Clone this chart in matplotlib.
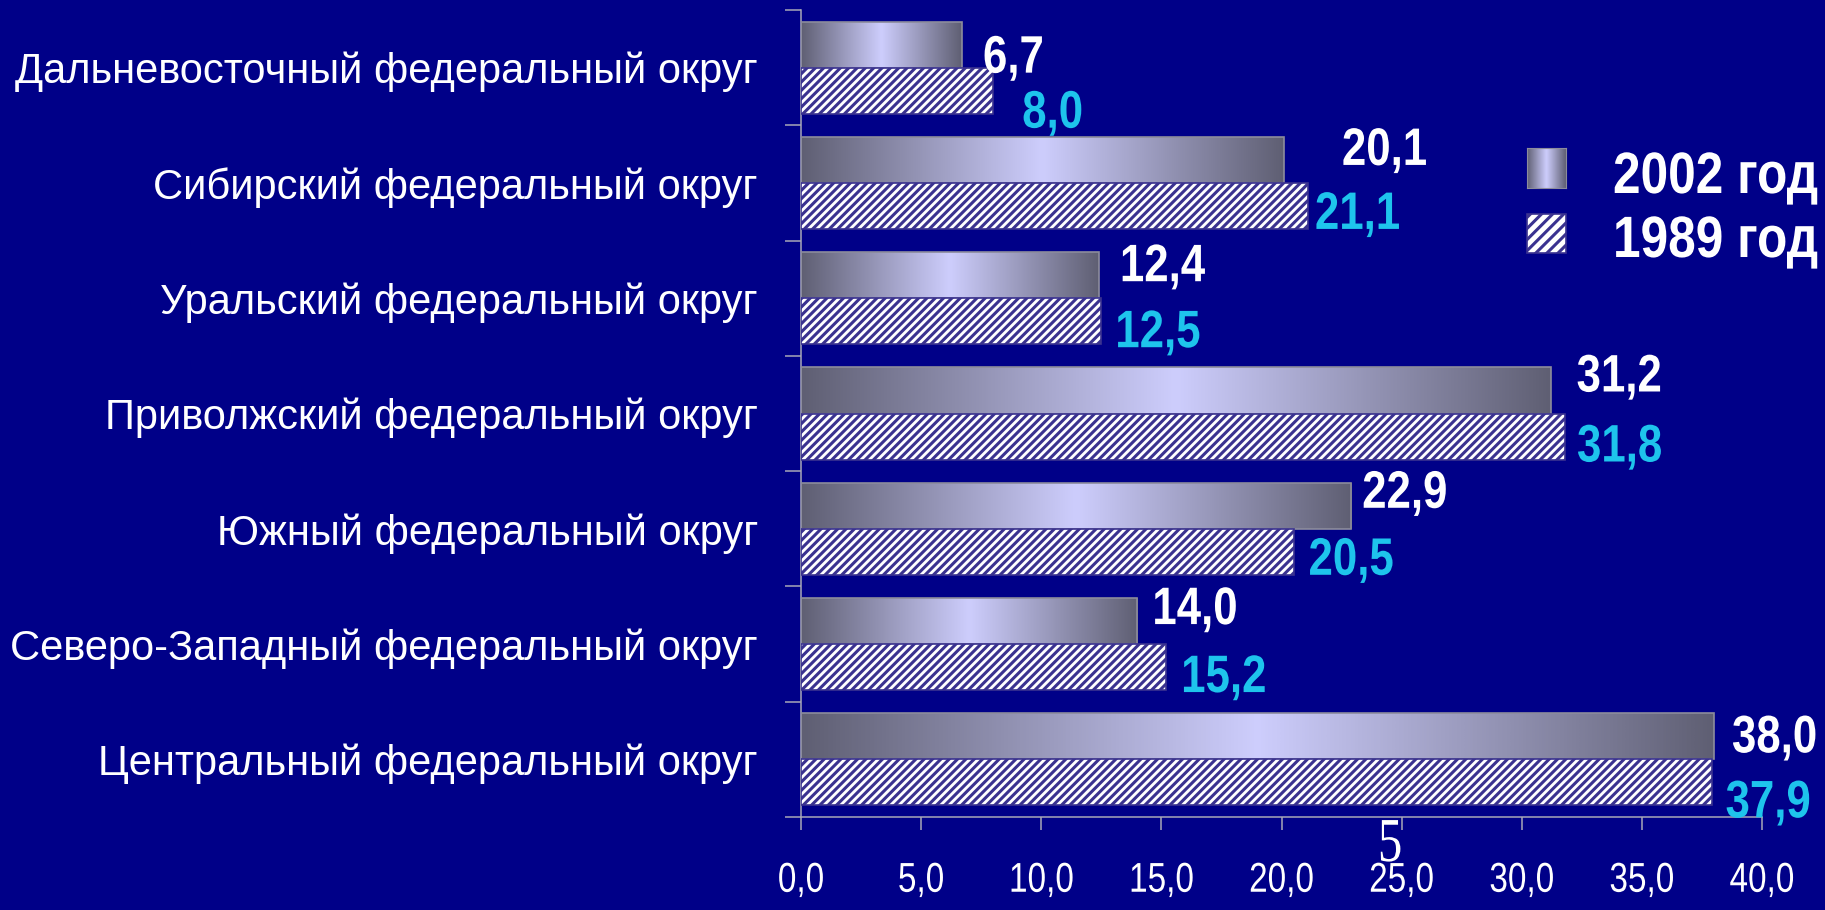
# Recreation of the bar chart comparing federal districts, 2002 vs 1989.
import numpy as np
import matplotlib.pyplot as plt
from matplotlib.colors import LinearSegmentedColormap
from matplotlib.patches import Rectangle
from matplotlib.patheffects import AbstractPathEffect
from matplotlib.transforms import Affine2D

# data (top to bottom, as on the slide)
districts = ['Дальневосточный федеральный округ',
             'Сибирский федеральный округ',
             'Уральский федеральный округ',
             'Приволжский федеральный округ',
             'Южный федеральный округ',
             'Северо-Западный федеральный округ',
             'Центральный федеральный округ']
values_2002 = [6.7, 20.1, 12.4, 31.2, 22.9, 14.0, 38.0]
values_1989 = [8.0, 21.1, 12.5, 31.8, 20.5, 15.2, 37.9]
series_names = ['2002 год', '1989 год']
x_ticks = [0, 5, 10, 15, 20, 25, 30, 35, 40]

# hand placed value labels on the slide: (dx, dy) in pixels from the
# bar end / category centre, dy positive = down to the digit centre
offsets_2002 = [(21, -14), (58, -37), (21, -36), (26, -41), (11, -40), (15, -39), (18, -26)]
offsets_1989 = [(29, 41), (7, 27), (14, 30), (12, 29), (15, 27), (15, 29), (14, 39)]

BG = '#000088'
CYAN = '#1ec4ec'
AXIS = '#a8a8b8'
HATCH = '#3a3290'


class Narrow(AbstractPathEffect):
    """Squeeze glyphs sideways - no narrow Arial is installed."""

    def __init__(self, sx, anchor='left'):
        super().__init__()
        self.sx = sx
        self.anchor = anchor

    def draw_path(self, renderer, gc, tpath, affine, rgbFace=None):
        ext = tpath.get_extents()
        x0 = {'left': 0.0, 'center': (ext.x0 + ext.x1) / 2, 'right': ext.x1}[self.anchor]
        squeeze = Affine2D().translate(-x0, 0).scale(self.sx, 1).translate(x0, 0)
        renderer.draw_path(gc, tpath, squeeze + affine, rgbFace)


plt.rcParams['font.family'] = ['Liberation Sans', 'DejaVu Sans']
plt.rcParams['hatch.linewidth'] = 2.2

W, H = 1825, 910
fig = plt.figure(figsize=(W / 100, H / 100), dpi=100, facecolor=BG)
ax = fig.add_axes([801 / W, 1 - 817 / H, 961 / W, 807 / H])
ax.set_facecolor(BG)

y = np.arange(len(districts))

# gradient fill: dark grey at both ends, light lavender in the middle
t = np.linspace(0, 1, 256)
grad = (1 - np.abs(2 * t - 1))[None, :]
cmap = LinearSegmentedColormap.from_list('bar', ['#5f5f73', '#cdcdfc'])

bars = ax.barh(y - 0.2, values_2002, height=0.4, facecolor='none',
               edgecolor='#8c8c9c', linewidth=1.2, zorder=3)
for bar, v in zip(bars, values_2002):
    y0 = bar.get_y()
    im = ax.imshow(grad, cmap=cmap, aspect='auto', interpolation='bicubic',
                   extent=(0, v, y0 + bar.get_height(), y0), zorder=2)
    im.set_clip_path(bar)

ax.barh(y + 0.2, values_1989, height=0.4, facecolor='white',
        edgecolor=HATCH, hatch='////', linewidth=1.2, zorder=3)

# value labels
for i in range(len(districts)):
    dx, dy = offsets_2002[i]
    ax.annotate(f'{values_2002[i]:.1f}'.replace('.', ','), (values_2002[i], y[i]),
                xytext=(dx, -(dy + 19)), textcoords='offset pixels',
                ha='left', va='baseline', color='white', fontsize=38,
                fontweight='bold', zorder=5, path_effects=[Narrow(0.83)])
    dx, dy = offsets_1989[i]
    ax.annotate(f'{values_1989[i]:.1f}'.replace('.', ','), (values_1989[i], y[i]),
                xytext=(dx, -(dy + 19)), textcoords='offset pixels',
                ha='left', va='baseline', color=CYAN, fontsize=38,
                fontweight='bold', zorder=5, path_effects=[Narrow(0.83)])

ax.set_xlim(0, 40)
ax.set_ylim(len(districts) - 0.5, -0.5)

ax.set_xticks(x_ticks, labels=[f'{v:.1f}'.replace('.', ',') for v in x_ticks])
ax.tick_params(axis='x', length=9.5, width=1.1, color=AXIS, labelsize=30,
               labelcolor='white', pad=22)
for lab in ax.get_xticklabels():
    lab.set_path_effects([Narrow(0.8, 'center')])

ax.set_yticks(y, labels=districts)
ax.set_yticks(np.arange(-0.5, len(districts)), minor=True)
ax.tick_params(axis='y', which='major', length=0, labelsize=30,
               labelcolor='white', pad=31)
ax.tick_params(axis='y', which='minor', length=11.5, width=1.1, color=AXIS)

for side in ['top', 'right']:
    ax.spines[side].set_visible(False)
for side in ['left', 'bottom']:
    ax.spines[side].set_color(AXIS)
    ax.spines[side].set_linewidth(1.1)

# legend, drawn by hand to keep the gradient swatch
lax = fig.add_axes([1527 / W, 1 - 188 / H, 39 / W, 40 / H])
lax.imshow(grad, cmap=cmap, aspect='auto', interpolation='bicubic')
lax.set_xticks([])
lax.set_yticks([])
for sp in lax.spines.values():
    sp.set_color('#8c8c9c')
fig.add_artist(Rectangle((1527 / W, 1 - 253 / H), 39 / W, 39 / H,
                         transform=fig.transFigure, facecolor='white',
                         edgecolor=HATCH, hatch='///', linewidth=1.2))
fig.text(1613 / W, 1 - 193 / H, series_names[0], color='white', fontsize=42,
         fontweight='bold', va='baseline', path_effects=[Narrow(0.85)])
fig.text(1613 / W, 1 - 257 / H, series_names[1], color='white', fontsize=42,
         fontweight='bold', va='baseline', path_effects=[Narrow(0.85)])

# slide number
fig.text(1390 / W, 1 - 861 / H, '5', color='white', fontsize=45,
         family='Liberation Serif', ha='center', va='baseline',
         path_effects=[Narrow(0.78, 'center')])

fig.savefig('out.png', dpi=100, facecolor=BG)
